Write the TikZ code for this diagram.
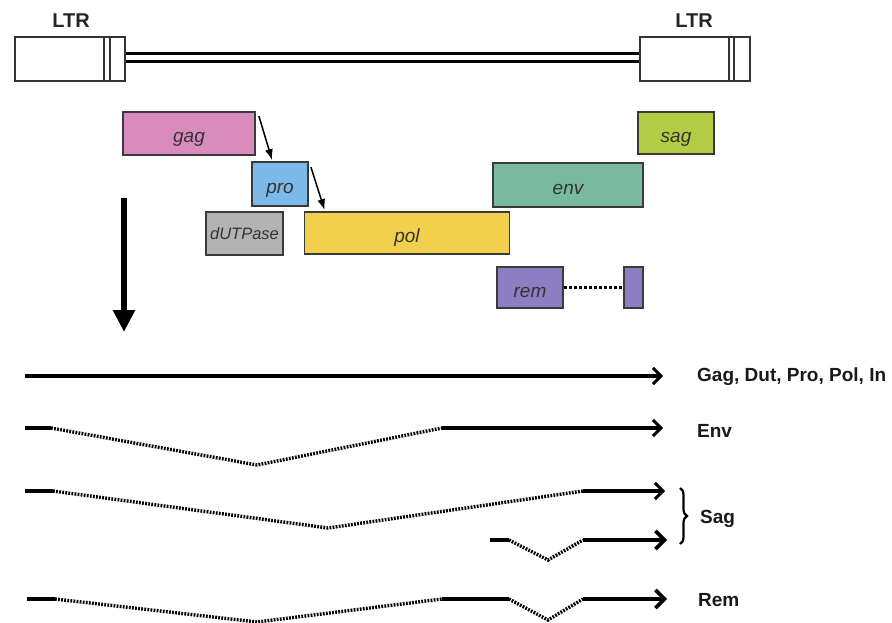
\documentclass[tikz,border=0pt]{standalone}
\usepackage{fontspec}
\setmainfont{Liberation Sans}
\usetikzlibrary{arrows.meta,calc,decorations.pathreplacing}
\definecolor{gagc}{HTML}{D98BBE}
\definecolor{proc}{HTML}{7DB9E8}
\definecolor{dutc}{HTML}{B3B3B3}
\definecolor{polc}{HTML}{F2D04E}
\definecolor{envc}{HTML}{79B9A0}
\definecolor{sagc}{HTML}{B3CB45}
\definecolor{remc}{HTML}{8B7FC2}
\definecolor{boxedge}{HTML}{3A3A3A}
\definecolor{txt}{HTML}{333333}
\tikzset{
  gene/.style={draw=boxedge, line width=1.8pt, inner sep=0pt, font=\fontsize{19}{20}\selectfont\itshape, text=txt, text height=19pt, text depth=0pt},
  ltrbox/.style={draw=black!80, line width=1.6pt, fill=white, minimum width=110pt, minimum height=44pt, inner sep=0pt},
  lbl/.style={font=\fontsize{19}{21}\selectfont\bfseries, anchor=west, inner sep=0pt, text=black!90},
  solidseg/.style={line width=3.2pt},
  dotseg/.style={line width=3.4pt, dash pattern=on 1.8pt off 1.3pt},
  tipA/.style={-{Straight Barb[length=8pt,width=16pt,line width=3pt]}},
  tipB/.style={line width=4pt,-{Straight Barb[length=9pt,width=18pt,line width=3.6pt]}},
  smallarr/.style={line width=1.5pt,-{Latex[length=11pt,width=8pt]}}
}
\begin{document}
\begin{tikzpicture}[x=1pt,y=-1pt]
\useasboundingbox (0,0) rectangle (892,623);
% LTRs and backbone
\node[ltrbox] (ltrL) at (70,59) {};
\node[ltrbox] (ltrR) at (695,59) {};
\draw[line width=1.4pt, black!80] (104,37) -- (104,81) (110,37) -- (110,81);
\draw[line width=1.4pt, black!80] (729,37) -- (729,81) (734,37) -- (734,81);
\draw[line width=3pt] ($(ltrL.east)+(0,-5)$) -- ($(ltrR.west)+(0,-5)$);
\draw[line width=3pt] ($(ltrL.east)+(0,3)$) -- ($(ltrR.west)+(0,3)$);
\node[font=\fontsize{20}{22}\selectfont\bfseries, text=black!85] (ltrLt) at (71,21) {LTR};
\node[font=\fontsize{20}{22}\selectfont\bfseries, text=black!85] (ltrRt) at (694,21) {LTR};
% genes
\node[gene, fill=gagc, minimum width=132pt, minimum height=43pt] (gag) at (189,133.5) {gag};
\node[gene, fill=proc, minimum width=56pt, minimum height=44pt] (pro) at (280,184) {pro};
\node[gene, fill=dutc, minimum width=77pt, minimum height=43pt, font=\fontsize{16.5}{18}\selectfont\itshape, text height=13pt] (dut) at (244.5,233.5) {dUTPase};
\node[gene, fill=polc, minimum width=205pt, minimum height=42pt] (pol) at (407,233) {pol};
\node[gene, fill=envc, minimum width=150pt, minimum height=44pt] (env) at (568,185) {env};
\node[gene, fill=sagc, minimum width=76pt, minimum height=42pt] (sag) at (676,133) {sag};
\node[gene, fill=remc, minimum width=66pt, minimum height=41pt] (rem) at (530,287.5) {rem};
\node[gene, fill=remc, minimum width=19pt, minimum height=41pt] (rem2) at (633.5,287.5) {};
\draw[line width=3.4pt, dash pattern=on 3pt off 2pt] (rem.east) -- (rem2.west);
\draw[smallarr] ($(gag.north east)+(3,5)$) -- ($(pro.north west)+(21,-1)$);
\draw[smallarr] ($(pro.north east)+(2,6)$) -- ($(pol.north west)+(21,-1)$);
% big arrow
\coordinate (bigS) at (124,198);
\coordinate (bigE) at (124,332);
\draw[line width=5.5pt, -{Triangle[length=22pt,width=21pt]}] (bigS) -- (bigE);
% transcripts
\coordinate (a0) at (25,376); \coordinate (a1) at (663,376);
\draw[solidseg, tipA] (a0) -- (a1);
\node[lbl] (la) at (697,377) {Gag, Dut, Pro, Pol, In};

\coordinate (e0) at (25,428); \coordinate (e1) at (51,428); \coordinate (e2) at (257,465);
\coordinate (e3) at (442,428); \coordinate (e4) at (663,428);
\draw[solidseg] (e0) -- (e1);
\draw[dotseg] (e1) -- (e2) -- (e3);
\draw[solidseg, tipA] (e3) -- (e4);
\node[lbl] (le) at (697,431) {Env};

\coordinate (s0) at (25,491); \coordinate (s1) at (53,491); \coordinate (s2) at (328,528);
\coordinate (s3) at (583,491); \coordinate (s4) at (665,491);
\draw[solidseg] (s0) -- (s1);
\draw[dotseg] (s1) -- (s2) -- (s3);
\draw[solidseg, tipA] (s3) -- (s4);

\coordinate (t0) at (490,540); \coordinate (t1) at (509,540); \coordinate (t2) at (548,560);
\coordinate (t3) at (583,540); \coordinate (t4) at (667,540);
\draw[solidseg] (t0) -- (t1);
\draw[dotseg] (t1) -- (t2) -- (t3);
\draw[tipB] (t3) -- (t4);
\draw[line width=2.2pt, decorate, decoration={brace, amplitude=7pt}] (680,488) coordinate (b0) -- (680,544) coordinate (b1);
\node[lbl] (ls) at (700,519) {Sag};

\coordinate (r0) at (27,599); \coordinate (r1) at (55,599); \coordinate (r2) at (257,622);
\coordinate (r3) at (442,599); \coordinate (r4) at (509,599); \coordinate (r5) at (548,620);
\coordinate (r6) at (583,599); \coordinate (r7) at (667,599);
\draw[solidseg] (r0) -- (r1);
\draw[dotseg] (r1) -- (r2) -- (r3);
\draw[line width=4pt] (r3) -- (r4);
\draw[dotseg] (r4) -- (r5) -- (r6);
\draw[tipB] (r6) -- (r7);
\node[lbl] (lr) at (698,600) {Rem};
\end{tikzpicture}
\end{document}
